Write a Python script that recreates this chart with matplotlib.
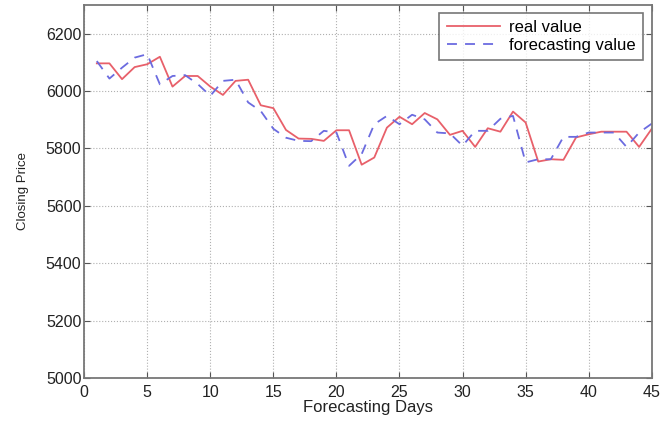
import numpy as np
import matplotlib
matplotlib.use("Agg")
import matplotlib.pyplot as plt

plt.rcParams['font.family'] = ['Liberation Sans', 'DejaVu Sans']

days = np.arange(1, 46)
real_value = [6096, 6096, 6041, 6083, 6093, 6119, 6015, 6052, 6052, 6015,
              5986, 6035, 6039, 5950, 5940, 5864, 5834, 5833, 5826, 5863,
              5863, 5743, 5768, 5872, 5910, 5884, 5923, 5901, 5847, 5861,
              5805, 5870, 5858, 5928, 5890, 5754, 5762, 5760, 5838, 5849,
              5858, 5858, 5858, 5805, 5868]
forecast_value = [6104, 6043, 6081, 6116, 6128, 6023, 6052, 6055, 6024, 5983,
                  6035, 6039, 5960, 5930, 5868, 5837, 5826, 5825, 5861, 5855,
                  5739, 5780, 5884, 5913, 5884, 5917, 5901, 5855, 5852, 5809,
                  5861, 5861, 5903, 5913, 5751, 5762, 5762, 5840, 5840, 5855,
                  5855, 5855, 5805, 5855, 5886]

fig = plt.figure(figsize=(6.63, 4.36), dpi=100)
ax = fig.add_axes([0.127, 0.133, 0.856, 0.856])

ax.plot(days, real_value, color='#e8606a', lw=1.3, label='real value')
ax.plot(days, forecast_value, color='#6b6be0', lw=1.3, ls=(0, (5.5, 4.5)),
        label='forecasting value')

ax.set_xlim(0, 45)
ax.set_ylim(5000, 6300)
ax.set_xticks(np.arange(0, 46, 5))
ax.set_yticks(np.arange(5000, 6201, 200))
ax.grid(True, ls=':', color='#b0b0b0', lw=0.8)
ax.tick_params(direction='in', labelsize=11.5, labelcolor='#222222',
               color='#555555', length=4, top=True, right=True, pad=2)
ax.tick_params(axis='x', pad=5)
for s in ax.spines.values():
    s.set_color('#777777')
    s.set_linewidth(1.3)

ax.set_xlabel('Forecasting Days', fontsize=12, color='#222222', labelpad=0)
ax.set_ylabel('Closing Price', fontsize=9.5, color='#222222', labelpad=12)

leg = ax.legend(loc='upper right', bbox_to_anchor=(0.984, 0.979), fontsize=12,
                fancybox=False, handlelength=3.2, handletextpad=0.5,
                borderpad=0.45, labelspacing=0.15, borderaxespad=0)
leg.get_frame().set_edgecolor('#555555')
leg.get_frame().set_linewidth(1.2)

fig.savefig('out.png', dpi=100)
